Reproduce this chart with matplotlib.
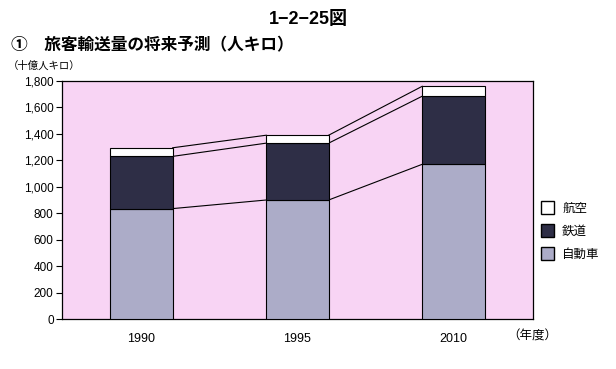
import matplotlib.pyplot as plt
from matplotlib.patches import Patch
from matplotlib.ticker import FuncFormatter

plt.rcParams['font.family'] = ['Noto Sans CJK JP', 'DejaVu Sans']
latin = ['Liberation Sans', 'Noto Sans CJK JP']

# data (billion person-km)
years = ['1990', '1995', '2010']
car = [835, 900, 1170]
rail = [395, 430, 515]
air = [65, 60, 75]

car_col = '#acacc8'
rail_col = '#2e2e46'
air_col = 'white'
bg_col = '#f8d4f4'

fig = plt.figure(figsize=(6.16, 3.69), dpi=100)
ax = fig.add_axes([0.1006, 0.1355, 0.7646, 0.645])
ax.set_facecolor(bg_col)

x = list(range(len(years)))
w = 0.4
rail_bottom = car
air_bottom = [c + r for c, r in zip(car, rail)]
totals = [c + r + a for c, r, a in zip(car, rail, air)]

ax.bar(x, car, width=w, color=car_col, edgecolor='black', linewidth=0.8, zorder=3)
ax.bar(x, rail, width=w, bottom=rail_bottom, color=rail_col, edgecolor='black', linewidth=0.8, zorder=3)
ax.bar(x, air, width=w, bottom=air_bottom, color=air_col, edgecolor='black', linewidth=0.8, zorder=3)

# connecting lines between bars
for levels in (car, air_bottom, totals):
    for i in range(len(x) - 1):
        ax.plot([x[i] + w / 2, x[i + 1] - w / 2], [levels[i], levels[i + 1]],
                color='black', linewidth=0.8, zorder=2)

ax.set_xlim(-0.51, 2.51)
ax.set_ylim(0, 1800)
ax.set_yticks(range(0, 1801, 200))
ax.yaxis.set_major_formatter(FuncFormatter(lambda v, p: f'{int(v):,}'))
ax.tick_params(axis='y', labelsize=8.5, length=4, width=0.8, pad=2)
ax.set_xticks(x)
ax.set_xticklabels(years, fontsize=9)
ax.tick_params(axis='x', length=0, pad=10)
for lab in ax.get_xticklabels() + ax.get_yticklabels():
    lab.set_family(latin)
for s in ax.spines.values():
    s.set_linewidth(0.9)

handles = [Patch(facecolor=air_col, edgecolor='black', label='航空'),
           Patch(facecolor=rail_col, edgecolor='black', label='鉄道'),
           Patch(facecolor=car_col, edgecolor='black', label='自動車')]
fig.legend(handles=handles, loc='upper left', bbox_to_anchor=(0.86, 0.485),
           frameon=False, fontsize=9, handlelength=1.0, handleheight=1.2,
           labelspacing=0.75, handletextpad=0.7)

fig.text(0.5, 0.948, '1−2−25図', ha='center', va='center', fontsize=13,
         fontweight='bold', family=latin)
fig.text(0.018, 0.878, '①　旅客輸送量の将来予測（人キロ）', ha='left', va='center',
         fontsize=12, fontweight='bold')
fig.text(0.012, 0.822, '（十億人キロ）', ha='left', va='center', fontsize=7.5)
fig.text(0.824, 0.088, '（年度）', ha='left', va='center', fontsize=9)

fig.savefig('out.png', dpi=100, facecolor='white')
